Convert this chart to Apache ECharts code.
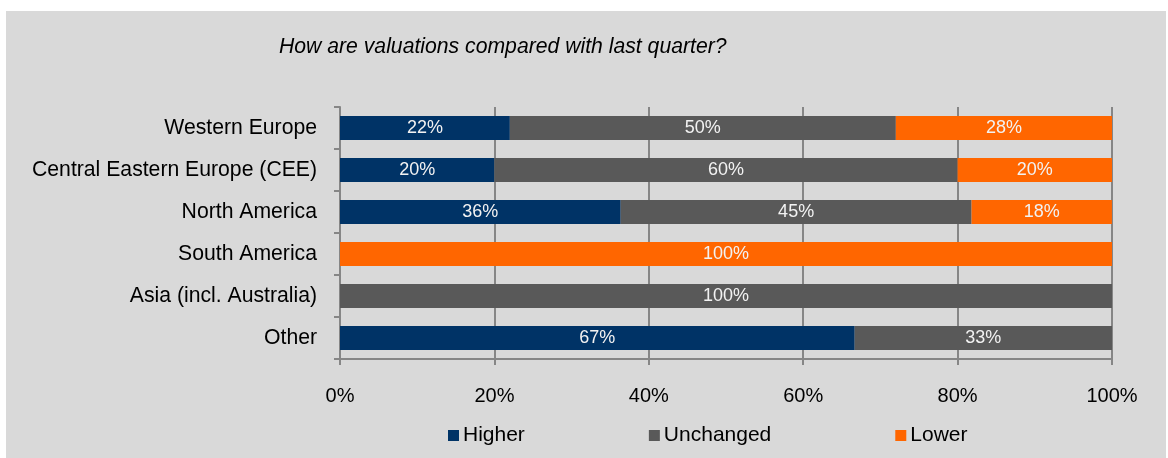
<!DOCTYPE html>
<html>
<head>
<meta charset="utf-8">
<script src="https://cdn.jsdelivr.net/npm/echarts@6/dist/echarts.min.js"></script>
<style>
  html, body { margin: 0; padding: 0; background: #ffffff; }
  #chart { width: 1168px; height: 458px; }
</style>
</head>
<body>
<div id="chart"></div>
<script>
const titleText = 'How are valuations compared with last quarter?';
const categories = ['Western Europe', 'Central Eastern Europe (CEE)', 'North America', 'South America', 'Asia (incl. Australia)', 'Other'];
const seriesNames = ['Higher', 'Unchanged', 'Lower'];
const higher = [22, 20, 36.36, 0, 0, 66.67];
const unchanged = [50, 60, 45.45, 0, 100, 33.33];
const lower = [28, 20, 18.18, 100, 0, 0];
const colors = ['#003366', '#595959', '#ff6600'];
const xTicks = [0, 20, 40, 60, 80, 100];

const FONT = '"Liberation Sans", Arial, sans-serif';
const chart = echarts.init(document.getElementById('chart'), null, { renderer: 'canvas' });

function mkSeries(name, data, color) {
  return {
    name: name,
    type: 'bar',
    stack: 'total',
    data: data,
    barWidth: 24,
    itemStyle: { color: color },
    label: {
      show: true,
      position: 'inside',
      color: '#f2f2f2',
      fontFamily: FONT,
      fontSize: 18,
      formatter: p => (p.value > 0 ? Math.round(p.value) + '%' : '')
    },
    emphasis: { disabled: true }
  };
}

chart.setOption({
  animation: false,
  backgroundColor: '#ffffff',
  color: colors,
  graphic: [{
    type: 'rect',
    z: -100,
    shape: { x: 6, y: 11, width: 1160, height: 447 },
    style: { fill: '#d9d9d9' },
    silent: true
  }],
  title: {
    text: titleText,
    left: 279,
    top: 37,
    padding: 0,
    textStyle: { fontFamily: FONT, fontSize: 21.2, fontStyle: 'italic', fontWeight: 'normal', color: '#000000' }
  },
  legend: {
    data: seriesNames,
    left: 448,
    top: 425,
    padding: 0,
    itemWidth: 11,
    itemHeight: 11,
    itemGap: 124,
    icon: 'rect',
    textStyle: { fontFamily: FONT, fontSize: 21, color: '#000000', padding: [0, 0, 0, -1] }
  },
  grid: { left: 340, right: 56, top: 107, bottom: 99, containLabel: false },
  xAxis: {
    type: 'value',
    min: xTicks[0],
    max: xTicks[xTicks.length - 1],
    interval: 20,
    axisLine: { show: true, lineStyle: { color: '#868686', width: 2 } },
    axisTick: { show: true, length: 6, lineStyle: { color: '#868686', width: 2 } },
    splitLine: { show: true, lineStyle: { color: '#868686', width: 2 } },
    axisLabel: { fontFamily: FONT, fontSize: 20, color: '#000000', margin: 27, formatter: v => v + '%' }
  },
  yAxis: {
    type: 'category',
    inverse: true,
    data: categories,
    axisLine: { show: true, lineStyle: { color: '#868686', width: 2 } },
    axisTick: { show: true, length: 6, lineStyle: { color: '#868686', width: 2 } },
    axisLabel: { fontFamily: FONT, fontSize: 21.2, color: '#000000', margin: 23 }
  },
  series: [
    mkSeries(seriesNames[0], higher, colors[0]),
    mkSeries(seriesNames[1], unchanged, colors[1]),
    mkSeries(seriesNames[2], lower, colors[2])
  ]
});
</script>
</body>
</html>
